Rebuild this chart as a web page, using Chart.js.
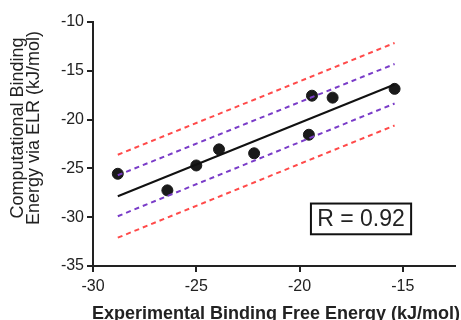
<!DOCTYPE html>
<html>
<head>
<meta charset="utf-8">
<script src="https://cdn.jsdelivr.net/npm/chart.js@4.4.1/dist/chart.umd.min.js"></script>
<style>
  html, body { margin: 0; padding: 0; background: #fff; }
  #wrap { width: 461px; height: 320px; }
</style>
</head>
<body>
<div id="wrap"><canvas id="myChart" width="461" height="320"></canvas></div>
<script>
// measured points (experimental vs computational)
let expX = [-28.8, -26.4, -25.0, -23.9, -22.2, -19.55, -19.4, -18.4, -15.4];
let compY = [-25.55, -27.25, -24.7, -23.05, -23.45, -21.55, -17.55, -17.75, -16.85];

// fit line and bands, read at both ends
let lineX = [-28.8, -15.4];
let fitY = [-27.85, -16.4];
let innerUpY = [-25.7, -14.3];
let innerLowY = [-29.9, -18.35];
let outerUpY = [-23.6, -12.15];
let outerLowY = [-32.1, -20.6];

let xTicks = [-30, -25, -20, -15];
let yTicks = [-35, -30, -25, -20, -15, -10];

let rText = "R = 0.92";

function pts(xs, ys) {
  return xs.map((x, i) => ({x: x, y: ys[i]}));
}

function lineSet(ys, color, dashed) {
  return {
    type: "line",
    data: pts(lineX, ys),
    borderColor: color,
    borderWidth: 2,
    borderDash: dashed ? [5, 4] : [],
    pointRadius: 0,
    fill: false
  };
}

const tickFont = {family: "Liberation Sans, Arial", size: 16};

// axis titles and R box
const extras = {
  id: "extras",
  afterDraw(chart) {
    const ctx = chart.ctx;
    const xs = chart.scales.x, ys = chart.scales.y;
    ctx.save();
    ctx.fillStyle = "#222";
    ctx.font = "18px 'Liberation Sans', Arial";
    ctx.textAlign = "center";
    ctx.textBaseline = "alphabetic";
    ctx.save();
    ctx.translate(23, 128);
    ctx.rotate(-Math.PI / 2);
    ctx.fillText("Computational Binding", 0, 0);
    ctx.fillText("Energy via ELR (kJ/mol)", 0, 16);
    ctx.restore();

    ctx.font = "bold 18px 'Liberation Sans', Arial";
    ctx.textAlign = "left";
    ctx.fillText("Experimental Binding Free Energy (kJ/mol)", 92, 319);

    // R box
    let l = xs.getPixelForValue(-19.45), r = xs.getPixelForValue(-14.6);
    let t = ys.getPixelForValue(-28.6), b = ys.getPixelForValue(-31.75);
    ctx.lineWidth = 2;
    ctx.strokeStyle = "#111";
    ctx.strokeRect(l, t, r - l, b - t);
    ctx.font = "23px 'Liberation Sans', Arial";
    ctx.textAlign = "center";
    ctx.textBaseline = "middle";
    ctx.fillText(rText, (l + r) / 2, (t + b) / 2 + 1);
    ctx.restore();
  }
};

new Chart(document.getElementById("myChart"), {
  type: "scatter",
  data: {
    datasets: [
      lineSet(outerUpY, "#ff4a4a", true),
      lineSet(outerLowY, "#ff4a4a", true),
      lineSet(innerUpY, "#7a3cc8", true),
      lineSet(innerLowY, "#7a3cc8", true),
      lineSet(fitY, "#111", false),
      {
        data: pts(expX, compY),
        backgroundColor: "#1a1a1a",
        borderColor: "#1a1a1a",
        pointRadius: 5.5,
        pointHoverRadius: 5.5
      }
    ]
  },
  options: {
    responsive: false,
    animation: false,
    events: [],
    layout: {padding: {top: 22, right: 0, left: 0, bottom: 0}},
    plugins: {legend: {display: false}, tooltip: {enabled: false}},
    scales: {
      x: {
        type: "linear",
        min: -30,
        max: -12.5,
        afterBuildTicks: (s) => { s.ticks = xTicks.map(v => ({value: v})); },
        afterFit: (s) => { s.height = 54; },
        border: {display: true, color: "#222", width: 2},
        grid: {display: true, drawOnChartArea: false, drawTicks: true, tickLength: 6, color: "#222", lineWidth: 2},
        ticks: {color: "#222", font: tickFont, padding: 5, maxRotation: 0}
      },
      y: {
        type: "linear",
        min: -35,
        max: -10,
        afterBuildTicks: (s) => { s.ticks = yTicks.map(v => ({value: v})); },
        afterFit: (s) => { s.width = 93; },
        border: {display: true, color: "#222", width: 2},
        grid: {display: true, drawOnChartArea: false, drawTicks: true, tickLength: 6, color: "#222", lineWidth: 2},
        ticks: {color: "#222", font: tickFont, padding: 3}
      }
    }
  },
  plugins: [extras]
});
</script>
</body>
</html>
